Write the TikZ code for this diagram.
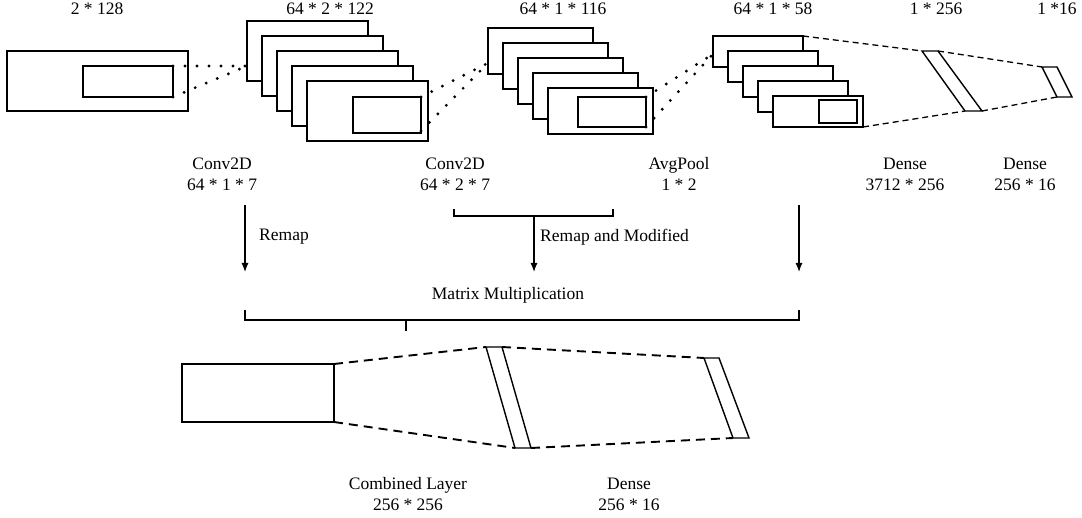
\documentclass[tikz,border=0pt]{standalone}
\usepackage{fontspec}
\setmainfont{Liberation Serif}
\usetikzlibrary{arrows.meta}
\begin{document}
\begin{tikzpicture}[x=1pt, y=-1pt]
  \tikzset{
    lay/.style={draw=black, fill=white, line width=1.4pt},
    dotline/.style={line width=3.2pt, line cap=round, dash pattern=on 0pt off 12pt},
    dashline/.style={line width=1.3pt, dash pattern=on 6pt off 4pt},
    dashbig/.style={line width=1.9pt, dash pattern=on 9pt off 6pt},
    lbl/.style={font=\fontsize{17.5}{21}\selectfont, align=center, inner sep=0pt},
    arr/.style={-{Latex[length=9pt, width=7pt]}, line width=1.2pt},
    brk/.style={line width=1.4pt},
  }

  \useasboundingbox (0,0) rectangle (1082,518);

  \draw[lay] (7,51) rectangle (188,111);
  \draw[lay] (83,66) rectangle (173,97);
  \coordinate (in-t) at (173,66);
  \coordinate (in-b) at (173,97);

  \foreach \i in {0,...,4}
    \draw[lay] (247+15*\i,21+15*\i) rectangle ++(121,60);
  \draw[lay] (353,97) rectangle (421,133);
  \coordinate (c1-in) at (247,66);
  \coordinate (c1-t) at (421,97);
  \coordinate (c1-b) at (421,131);

  \foreach \i in {0,...,4}
    \draw[lay] (488+15*\i,28+15*\i) rectangle ++(105,46);
  \draw[lay] (578,97) rectangle (646,127);
  \coordinate (c2-in) at (488,63);
  \coordinate (c2-t) at (646,97);
  \coordinate (c2-b) at (646,127);

  \foreach \i in {0,...,4}
    \draw[lay] (713+15*\i,36+15*\i) rectangle ++(90,31);
  \draw[lay] (819,100) rectangle (857,123);
  \coordinate (p-in) at (713,54);
  \coordinate (p-t) at (803,36);
  \coordinate (p-b) at (863,127);

  \draw[lay] (922,51) coordinate (d1-tl) -- (938,51) coordinate (d1-tr)
    -- (982,111) coordinate (d1-br) -- (965,111) coordinate (d1-bl) -- cycle;
  \draw[lay] (1042,67) coordinate (d2-tl) -- (1057,67)
    -- (1072,97) -- (1057,97) coordinate (d2-bl) -- cycle;

  \draw[dotline] (in-t) -- (c1-in);
  \draw[dotline] (in-b) -- (c1-in);
  \draw[dotline] (c1-t) -- (c2-in);
  \draw[dotline] (c1-b) -- (c2-in);
  \draw[dotline] (c2-t) -- (p-in);
  \draw[dotline] (c2-b) -- (p-in);
  \draw[dashline] (p-t) -- (d1-tl);
  \draw[dashline] (p-b) -- (d1-bl);
  \draw[dashline] (d1-tr) -- (d2-tl);
  \draw[dashline] (d1-br) -- (d2-bl);

  \node[lbl] (s-in) at (97,9) {2 * 128};
  \node[lbl] (s-c1) at (330,9) {64 * 2 * 122};
  \node[lbl] (s-c2) at (563,9) {64 * 1 * 116};
  \node[lbl] (s-p) at (773,9) {64 * 1 * 58};
  \node[lbl] (s-d1) at (936,9) {1 * 256};
  \node[lbl] (s-d2) at (1057,9) {1 *16};

  \node[lbl] (conv1) at (222,174) {Conv2D\\64 * 1 * 7};
  \node[lbl] (conv2) at (455,174) {Conv2D\\64 * 2 * 7};
  \node[lbl] (pool) at (679,174) {AvgPool\\1 * 2};
  \node[lbl] (dense1) at (905,174) {Dense\\3712 * 256};
  \node[lbl] (dense2) at (1025,174) {Dense\\256 * 16};

  \coordinate (a1-s) at (245,205);
  \coordinate (a1-e) at (245,272);
  \coordinate (a3-s) at (799,205);
  \coordinate (a3-e) at (799,272);
  \draw[brk] (454,209) -- (454,216) -- (613,216) -- (613,209);
  \coordinate (a2-s) at (534,216);
  \coordinate (a2-e) at (534,272);
  \draw[arr] (a1-s) -- (a1-e);
  \draw[arr] (a2-s) -- (a2-e);
  \draw[arr] (a3-s) -- (a3-e);
  \node[lbl, anchor=west] (remap) at (259,237) {Remap};
  \node[lbl, anchor=west] (remapmod) at (540,237) {Remap and Modified};

  \node[lbl] (matmul) at (508,295) {Matrix Multiplication};
  \draw[brk] (245,310) -- (245,320) -- (799,320) -- (799,310);
  \draw[brk] (406,320) -- (406,331);

  \draw[lay] (182,364) rectangle (334,422);
  \coordinate (cb-t) at (334,364);
  \coordinate (cb-b) at (334,422);
  \draw[lay] (486,347) coordinate (e1-tl) -- (502,347) coordinate (e1-tr)
    -- (531,448) coordinate (e1-br) -- (515,448) coordinate (e1-bl) -- cycle;
  \draw[lay] (704,358) coordinate (e2-tl) -- (719,358)
    -- (749,438) -- (733,438) coordinate (e2-bl) -- cycle;
  \draw[dashbig] (cb-t) -- (e1-tl);
  \draw[dashbig] (cb-b) -- (e1-bl);
  \draw[dashbig] (e1-tr) -- (e2-tl);
  \draw[dashbig] (e1-br) -- (e2-bl);

  \node[lbl] (comb) at (408,494) {Combined Layer\\256 * 256};
  \node[lbl] (dense3) at (629,494) {Dense\\256 * 16};
\end{tikzpicture}
\end{document}
